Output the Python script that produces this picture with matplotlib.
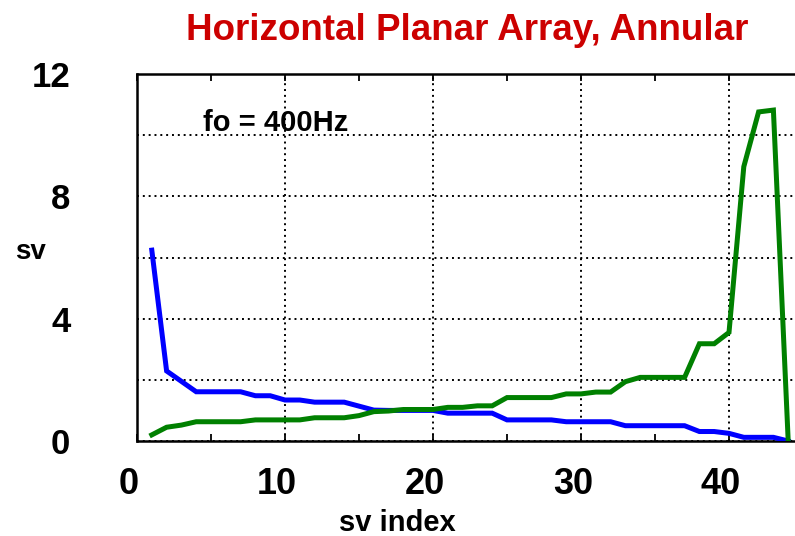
import matplotlib
matplotlib.use("Agg")
import matplotlib.pyplot as plt
import matplotlib.transforms as mtransforms
import numpy as np

plt.rcParams['font.family'] = ['Liberation Sans', 'DejaVu Sans']

# Singular value spectra, index 1..44
sv_index = list(range(1, 45))
sv_blue = [6.24, 2.29, 1.95, 1.61, 1.61, 1.61, 1.61, 1.48, 1.48, 1.34,
           1.34, 1.27, 1.27, 1.27, 1.14, 1.01, 1.00, 1.00, 1.00, 1.00,
           0.91, 0.91, 0.91, 0.91, 0.69, 0.69, 0.69, 0.69, 0.63, 0.63,
           0.63, 0.63, 0.50, 0.50, 0.50, 0.50, 0.50, 0.31, 0.31, 0.25,
           0.12, 0.12, 0.12, 0.00]
sv_green = [0.20, 0.45, 0.52, 0.63, 0.63, 0.63, 0.63, 0.69, 0.69, 0.69,
            0.69, 0.76, 0.76, 0.76, 0.83, 0.96, 0.98, 1.03, 1.03, 1.03,
            1.10, 1.10, 1.15, 1.15, 1.42, 1.42, 1.42, 1.42, 1.54, 1.54,
            1.60, 1.60, 1.94, 2.08, 2.08, 2.08, 2.08, 3.18, 3.18, 3.55,
            8.97, 10.76, 10.82, 0.00]

x_ticks = [0, 10, 20, 30, 40]
x_minor = [5, 15, 25, 35]
y_ticks = [0, 2, 4, 6, 8, 10, 12]
y_tick_labels = ['0', '', '4', '', '8', '', '12']

fig = plt.figure(figsize=(7.95, 5.36), dpi=100)
ax = fig.add_axes([137 / 795, 95 / 536, 666 / 795, 367 / 536])

ax.plot(sv_index, sv_blue, color='#0000ff', lw=3.6, solid_joinstyle='miter', zorder=3)
ax.plot(sv_index, sv_green, color='#008000', lw=3.6, solid_joinstyle='miter', zorder=3)

ax.set_xlim(0, 45)
ax.set_ylim(0, 12)
ax.set_xticks(x_ticks)
ax.set_xticks(x_minor, minor=True)
ax.set_yticks(y_ticks)
ax.set_yticklabels(y_tick_labels)
ax.grid(True, which='major', color='black', linestyle=(0, (1, 2)), linewidth=1.4)

ax.tick_params(axis='x', which='both', direction='in', top=True, bottom=True,
               length=5, width=1.3, labelsize=26, pad=19)
ax.tick_params(axis='y', which='both', direction='in', left=True, right=False,
               length=0, width=1.3, labelsize=25, pad=48)
for lbl in ax.get_xticklabels() + ax.get_yticklabels():
    lbl.set_fontweight('bold')
shift = mtransforms.ScaledTranslation(-8 / 100, 0, fig.dpi_scale_trans)
for lbl in ax.get_xticklabels():
    lbl.set_transform(lbl.get_transform() + shift)

for sp in ax.spines.values():
    sp.set_linewidth(1.8)

ax.text(4.45, 10.4, 'fo = 400Hz', fontsize=21, fontweight='bold',
        ha='left', va='center')

fig.text(30 / 795, 1 - 252 / 536, 'sv', fontsize=20, fontweight='bold',
         ha='center', va='center')
fig.text(397 / 795, 1 - 523 / 536, 'sv index', fontsize=21, fontweight='bold',
         ha='center', va='center')
fig.text(467.5 / 795, 1 - 39.5 / 536, 'Horizontal Planar Array, Annular',
         fontsize=26.5, fontweight='bold', color='#cc0000',
         ha='center', va='baseline')

fig.savefig('out.png', dpi=100)
